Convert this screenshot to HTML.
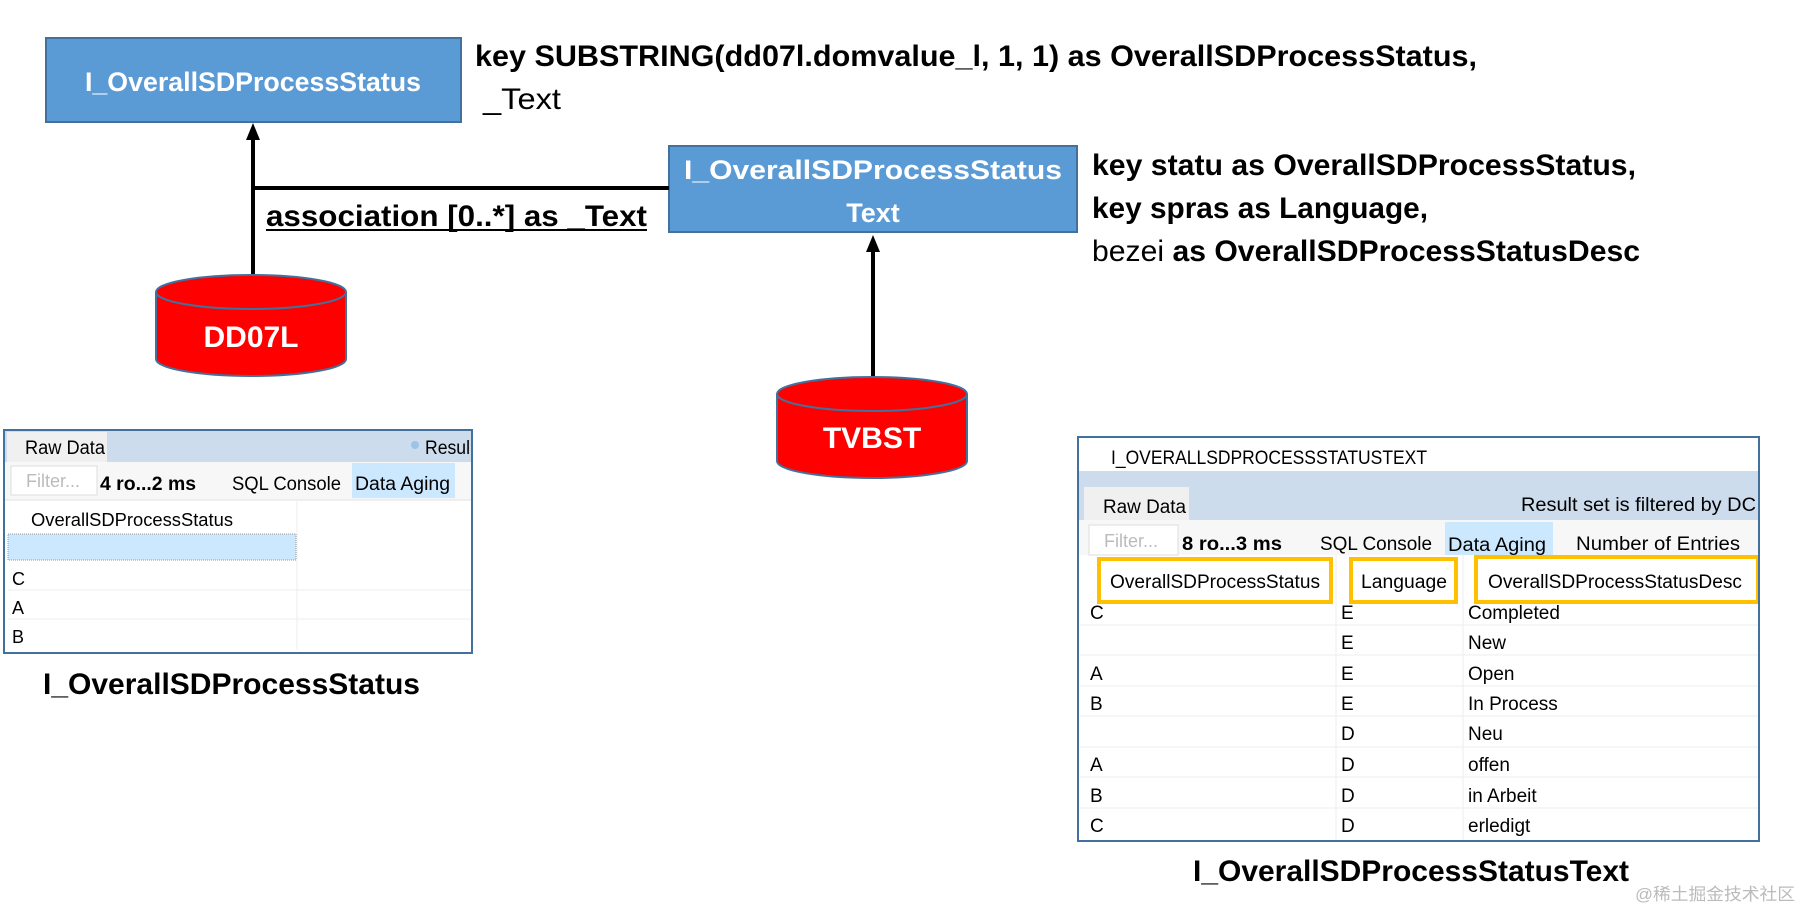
<!DOCTYPE html>
<html><head><meta charset="utf-8"><style>
html,body{margin:0;padding:0;background:#fff;}
svg{display:block;}
text{font-family:"Liberation Sans",sans-serif;}
</style></head><body>
<svg width="1801" height="911" viewBox="0 0 1801 911" xmlns="http://www.w3.org/2000/svg">
<!-- Box 1 -->
<rect x="46" y="38" width="415" height="84" fill="#5b9bd5" stroke="#41719c" stroke-width="2"/>
<text x="85" y="91" font-size="27" font-weight="bold" fill="#fff" textLength="336" lengthAdjust="spacingAndGlyphs">I_OverallSDProcessStatus</text>
<text x="475" y="66" font-size="30" font-weight="bold" textLength="1002" lengthAdjust="spacingAndGlyphs">key SUBSTRING(dd07l.domvalue_l, 1, 1) as OverallSDProcessStatus,</text>
<text x="483" y="109" font-size="30" textLength="78" lengthAdjust="spacingAndGlyphs">_Text</text>
<!-- Box 2 -->
<rect x="669" y="146" width="408" height="86" fill="#5b9bd5" stroke="#41719c" stroke-width="2"/>
<text x="684" y="179" font-size="27" font-weight="bold" fill="#fff" textLength="378" lengthAdjust="spacingAndGlyphs">I_OverallSDProcessStatus</text>
<text x="873" y="222" font-size="27" font-weight="bold" fill="#fff" text-anchor="middle">Text</text>
<text x="1092" y="175" font-size="30" font-weight="bold" textLength="544" lengthAdjust="spacingAndGlyphs">key statu as OverallSDProcessStatus,</text>
<text x="1092" y="218" font-size="30" font-weight="bold" textLength="336" lengthAdjust="spacingAndGlyphs">key spras as Language,</text>
<text x="1092" y="261" font-size="30" textLength="548" lengthAdjust="spacingAndGlyphs">bezei <tspan font-weight="bold">as OverallSDProcessStatusDesc</tspan></text>
<!-- connectors -->
<line x1="253" y1="276" x2="253" y2="138" stroke="#000" stroke-width="4"/>
<path d="M246,140 L253,123 L260,140 Z" fill="#000"/>
<line x1="253" y1="188" x2="669" y2="188" stroke="#000" stroke-width="4"/>
<text x="266" y="226" font-size="30" font-weight="bold" textLength="381" lengthAdjust="spacingAndGlyphs">association [0..*] as _Text</text>
<line x1="266" y1="230" x2="647" y2="230" stroke="#000" stroke-width="2"/>
<line x1="873" y1="378" x2="873" y2="250" stroke="#000" stroke-width="4"/>
<path d="M866,252 L873,235 L880,252 Z" fill="#000"/>
<!-- DD07L cylinder -->
<path d="M156,292 L156,359 A95,17 0 0 0 346,359 L346,292" fill="#ff0000" stroke="#41719c" stroke-width="2"/>
<ellipse cx="251" cy="292" rx="95" ry="17" fill="#ff0000" stroke="#41719c" stroke-width="2"/>
<text x="251" y="347" font-size="30" font-weight="bold" fill="#fff" text-anchor="middle">DD07L</text>
<!-- TVBST cylinder -->
<path d="M777,394 L777,461 A95,17 0 0 0 967,461 L967,394" fill="#ff0000" stroke="#41719c" stroke-width="2"/>
<ellipse cx="872" cy="394" rx="95" ry="17" fill="#ff0000" stroke="#41719c" stroke-width="2"/>
<text x="872" y="448" font-size="30" font-weight="bold" fill="#fff" text-anchor="middle">TVBST</text>

<!-- Left table -->
<rect x="4" y="430" width="468" height="223" fill="#fff"/>
<rect x="5" y="431" width="466" height="31" fill="#cddcec"/>
<rect x="7" y="432" width="100" height="31" fill="#f0f0f0"/>
<text x="25" y="454" font-size="19" textLength="80" lengthAdjust="spacingAndGlyphs">Raw Data</text>
<text x="425" y="454" font-size="19" textLength="45" lengthAdjust="spacingAndGlyphs">Resul</text>
<circle cx="415" cy="445" r="4" fill="#9cc3ea"/>
<rect x="5" y="462" width="466" height="38" fill="#f7f7f7"/>
<rect x="11" y="466" width="86" height="29" fill="#fff" stroke="#ddd"/>
<text x="26" y="487" font-size="18" fill="#bbb">Filter...</text>
<text x="100" y="490" font-size="19" font-weight="bold" textLength="96" lengthAdjust="spacingAndGlyphs">4 ro...2 ms</text>
<text x="232" y="490" font-size="19" textLength="109" lengthAdjust="spacingAndGlyphs">SQL Console</text>
<rect x="352" y="463" width="103" height="35" fill="#cce8ff"/>
<text x="355" y="490" font-size="19" textLength="95" lengthAdjust="spacingAndGlyphs">Data Aging</text>
<line x1="5" y1="500" x2="471" y2="500" stroke="#e0e0e0"/>
<text x="31" y="526" font-size="18" textLength="202" lengthAdjust="spacingAndGlyphs">OverallSDProcessStatus</text>
<rect x="8" y="534" width="288" height="26" fill="#cce8ff" stroke="#999" stroke-dasharray="1,1"/>
<line x1="297" y1="500" x2="297" y2="650" stroke="#eee"/>
<line x1="8" y1="590" x2="471" y2="590" stroke="#eee"/>
<line x1="8" y1="619" x2="471" y2="619" stroke="#eee"/>
<text x="12" y="585" font-size="18">C</text>
<text x="12" y="614" font-size="18">A</text>
<text x="12" y="643" font-size="18">B</text>
<rect x="4" y="430" width="468" height="223" fill="none" stroke="#41719c" stroke-width="2"/>
<text x="43" y="694" font-size="30" font-weight="bold" textLength="377" lengthAdjust="spacingAndGlyphs">I_OverallSDProcessStatus</text>

<!-- Right table -->
<rect x="1078" y="437" width="681" height="404" fill="#fff"/>
<rect x="1079" y="471" width="679" height="49" fill="#cddcec"/>
<rect x="1084" y="487" width="105" height="33" fill="#f0f0f0"/>
<text x="1111" y="464" font-size="19" textLength="316" lengthAdjust="spacingAndGlyphs">I_OVERALLSDPROCESSSTATUSTEXT</text>
<text x="1103" y="513" font-size="19" textLength="83" lengthAdjust="spacingAndGlyphs">Raw Data</text>
<text x="1521" y="511" font-size="19" textLength="235" lengthAdjust="spacingAndGlyphs">Result set is filtered by DC</text>
<rect x="1079" y="520" width="679" height="35" fill="#f7f7f7"/>
<rect x="1089" y="525" width="89" height="30" fill="#fff" stroke="#ddd"/>
<text x="1104" y="547" font-size="18" fill="#bbb">Filter...</text>
<text x="1182" y="550" font-size="19" font-weight="bold" textLength="100" lengthAdjust="spacingAndGlyphs">8 ro...3 ms</text>
<text x="1320" y="550" font-size="19" textLength="112" lengthAdjust="spacingAndGlyphs">SQL Console</text>
<rect x="1445" y="522" width="108" height="33" fill="#cce8ff"/>
<text x="1448" y="551" font-size="19" textLength="98" lengthAdjust="spacingAndGlyphs">Data Aging</text>
<text x="1576" y="550" font-size="19" textLength="164" lengthAdjust="spacingAndGlyphs">Number of Entries</text>
<line x1="1336" y1="555" x2="1336" y2="841" stroke="#eee"/>
<line x1="1463" y1="555" x2="1463" y2="841" stroke="#eee"/>
<g stroke="#eee"><line x1="1080" y1="625" x2="1758" y2="625"/><line x1="1080" y1="655" x2="1758" y2="655"/><line x1="1080" y1="686" x2="1758" y2="686"/><line x1="1080" y1="716" x2="1758" y2="716"/><line x1="1080" y1="747" x2="1758" y2="747"/><line x1="1080" y1="777" x2="1758" y2="777"/><line x1="1080" y1="808" x2="1758" y2="808"/></g>
<text x="1110" y="588" font-size="19" textLength="210" lengthAdjust="spacingAndGlyphs">OverallSDProcessStatus</text>
<text x="1361" y="588" font-size="19" textLength="86" lengthAdjust="spacingAndGlyphs">Language</text>
<text x="1488" y="588" font-size="19" textLength="254" lengthAdjust="spacingAndGlyphs">OverallSDProcessStatusDesc</text>
<rect x="1099" y="559" width="232" height="43" fill="none" stroke="#ffc000" stroke-width="4"/>
<rect x="1351" y="559" width="105" height="43" fill="none" stroke="#ffc000" stroke-width="4"/>
<rect x="1476" y="557" width="282" height="45" fill="none" stroke="#ffc000" stroke-width="4"/>
<g font-size="19">
<text x="1090" y="619">C</text><text x="1341" y="619">E</text><text x="1468" y="619">Completed</text>
<text x="1341" y="649">E</text><text x="1468" y="649">New</text>
<text x="1090" y="680">A</text><text x="1341" y="680">E</text><text x="1468" y="680">Open</text>
<text x="1090" y="710">B</text><text x="1341" y="710">E</text><text x="1468" y="710">In Process</text>
<text x="1341" y="740">D</text><text x="1468" y="740">Neu</text>
<text x="1090" y="771">A</text><text x="1341" y="771">D</text><text x="1468" y="771">offen</text>
<text x="1090" y="802">B</text><text x="1341" y="802">D</text><text x="1468" y="802">in Arbeit</text>
<text x="1090" y="832">C</text><text x="1341" y="832">D</text><text x="1468" y="832">erledigt</text>
</g>
<rect x="1078" y="437" width="681" height="404" fill="none" stroke="#41719c" stroke-width="2"/>
<text x="1193" y="881" font-size="30" font-weight="bold" textLength="436" lengthAdjust="spacingAndGlyphs">I_OverallSDProcessStatusText</text>
<text x="1635" y="900" font-size="17" fill="#bbb" font-family="'Liberation Sans','Noto Sans CJK SC',sans-serif" textLength="160" lengthAdjust="spacingAndGlyphs">@稀土掘金技术社区</text>
</svg>
</body></html>
